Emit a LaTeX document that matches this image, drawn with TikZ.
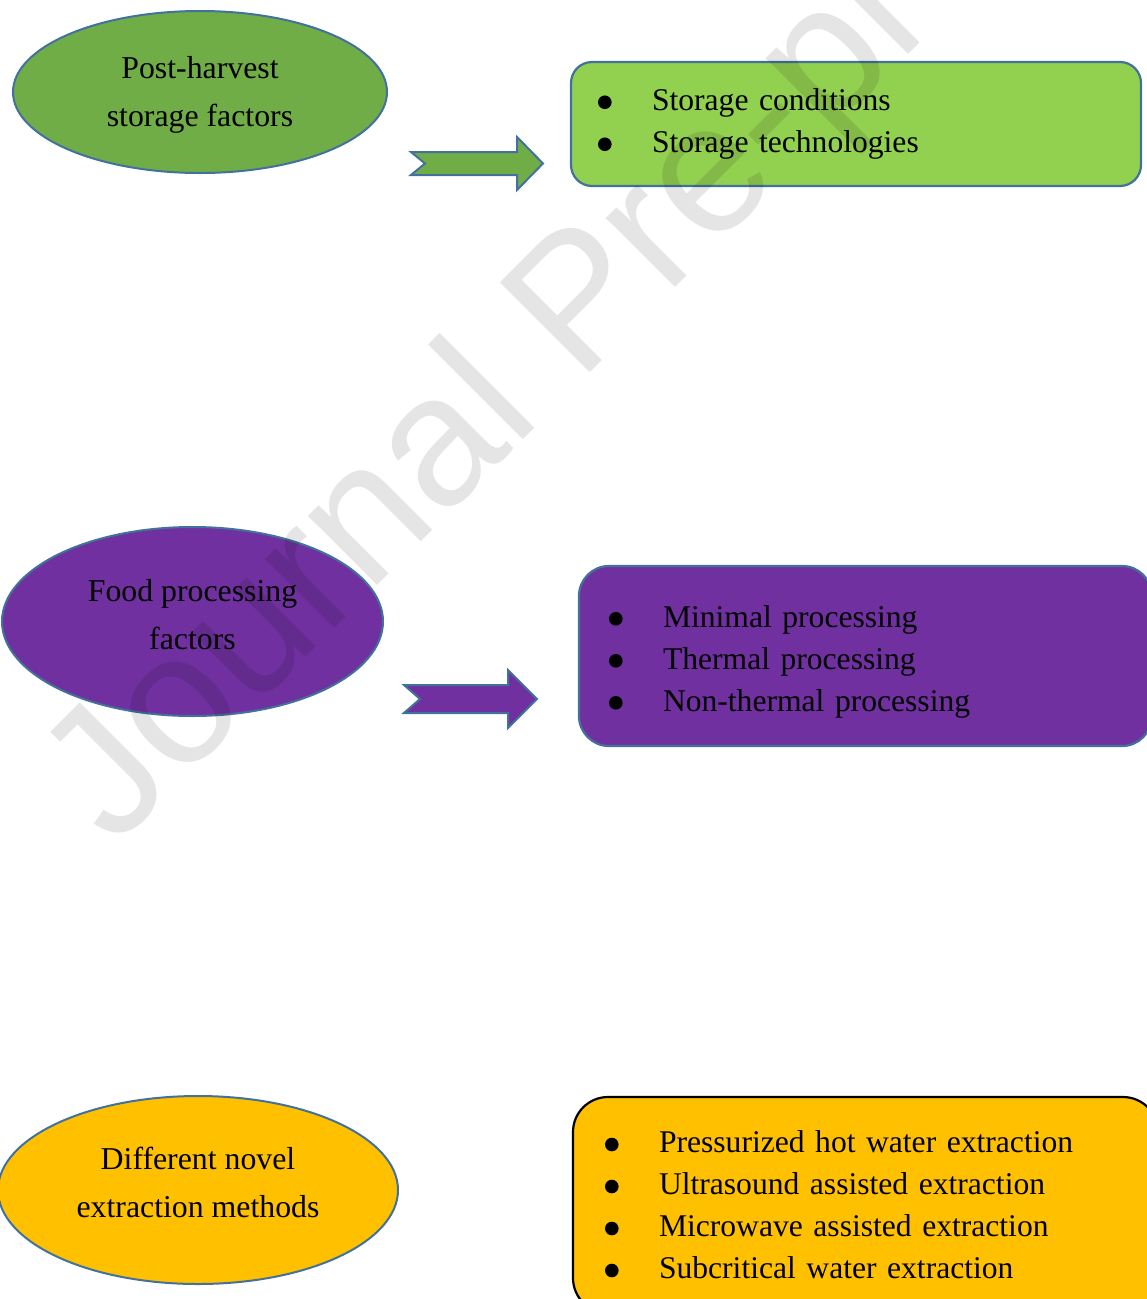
\documentclass[tikz,border=0pt]{standalone}
\usepackage{fontspec}
\setmainfont{Liberation Serif}
\newfontfamily\wmfont{Liberation Sans}
\usetikzlibrary{shapes.geometric}

\definecolor{edgeblue}{HTML}{41719C}
\definecolor{leafgreen}{HTML}{70AD47}
\definecolor{limegreen}{HTML}{92D050}
\definecolor{grape}{HTML}{7030A0}
\definecolor{amber}{HTML}{FFC000}

% bullet with the gap before the item text
\newcommand{\bul}{\makebox[54pt][l]{\raisebox{1.5pt}{\tikz\fill (0pt,0pt) circle (6.8pt);}}}

\begin{document}
\begin{tikzpicture}
	[	x=1pt,y=-1pt,
		oval/.style={ellipse,draw=edgeblue,line width=2pt,align=center,inner sep=0pt,
			font=\fontsize{31.8}{48}\selectfont},
		listbox/.style={rectangle,draw=edgeblue,line width=2.2pt,align=left,inner ysep=0pt,
			font=\fontsize{31.6}{42}\selectfont},
		blockarrow/.style={draw=edgeblue,line width=2pt,line join=miter},
		wmark/.style={font=\fontsize{185}{185}\wmfont,text=black,opacity=0.1,inner sep=0pt}
	]
	\useasboundingbox (0,0) rectangle (1147,1299);

	% post-harvest row
	\node[oval,fill=leafgreen,minimum width=374,minimum height=162,text depth=1pt] (harvest) at (200,92)
		{Post-harvest\\storage factors};
	\node[listbox,fill=limegreen,rounded corners=21,minimum width=570,minimum height=124,
		inner xsep=27,text width=516] (storage) at (856,124)
		{\bul Storage conditions\\\bul Storage technologies};
	\draw[blockarrow,fill=leafgreen] (411,152) -- (517,152) -- (517,137) -- (543,163.5)
		-- (517,190) -- (517,175) -- (411,175) -- (425,163.5) -- cycle;

	% processing row
	\node[oval,fill=grape,minimum width=381,minimum height=189,text depth=15pt] (process) at (192.5,621.5)
		{Food processing\\factors};
	\node[listbox,fill=grape,rounded corners=30,minimum width=573,minimum height=180,
		inner xsep=30,text width=513] (methods) at (865.5,656)
		{\rule{0pt}{33pt}\bul Minimal processing\\\bul Thermal processing\\\bul Non-thermal processing};
	\draw[blockarrow,fill=grape] (404,685) -- (508,685) -- (508,670) -- (537,699)
		-- (508,728) -- (508,713) -- (404,713) -- (420,699) -- cycle;

	% extraction row
	\node[oval,fill=amber,minimum width=400,minimum height=188,text depth=16pt] (extract) at (198,1190)
		{Different novel\\extraction methods};
	\node[listbox,fill=amber,draw=black,rounded corners=35,minimum width=585,minimum height=216,
		inner xsep=32,text width=521] (novel) at (865.5,1205)
		{\bul Pressurized hot water extraction\\\bul Ultrasound assisted extraction\\
		 \bul Microwave assisted extraction\\\bul Subcritical water extraction};

	\node[wmark,rotate=45,anchor=base west] (stamp) at (114,849) {Journal Pre-proof};
\end{tikzpicture}
\end{document}
